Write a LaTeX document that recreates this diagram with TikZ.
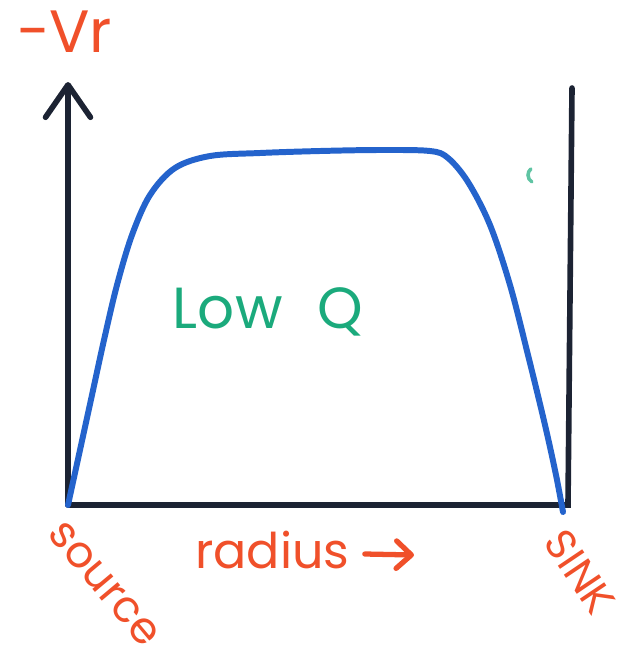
\documentclass[tikz,border=0pt]{standalone}
\usepackage{fontspec}
\setmainfont{Poppins}
\usepackage{tikz}
\usetikzlibrary{arrows.meta, positioning}

\definecolor{penred}{HTML}{F0502A}
\definecolor{pengreen}{HTML}{1BAA7C}
\definecolor{penblue}{HTML}{2463CC}
\definecolor{penaxis}{HTML}{1C2333}

\begin{document}
\begin{tikzpicture}[
    x=0.02cm, y=-0.02cm,
    axisline/.style={draw=penaxis, line width=3.2pt, line cap=round},
    curveline/.style={draw=penblue, line width=3.4pt, line cap=round, line join=round},
    redtext/.style={text=penred, font=\fontsize{28}{30}\selectfont, inner sep=0pt},
    greentext/.style={text=pengreen, font=\fontsize{33}{35}\selectfont, inner sep=0pt},
    arrow/.style={->, >={Straight Barb[length=0.65cm, width=0.9cm, round]}},
    redarrow/.style={->, >={Straight Barb[length=0.3cm, width=0.55cm, round]}, draw=penred, line width=3pt, line cap=round}
  ]
    \useasboundingbox (0,0) rectangle (626,660);
    % axes
    \coordinate (origin) at (68,505);
    \coordinate (ytop) at (68,82);
    \coordinate (xend) at (568,505);
    \coordinate (sinktop) at (572,88);
    \draw[axisline, arrow] (origin) -- (ytop);
    \draw[axisline] (origin) -- (xend) -- (sinktop);
    % velocity profile
    \draw[curveline] plot[smooth, tension=0.55] coordinates {
      (68,505) (80,450) (92,395) (104,340) (117,285) (132,235) (150,195)
      (175,168) (210,156) (260,153) (320,151) (380,150) (430,151) (448,158)
      (468,182) (490,225) (510,285) (528,355) (545,425) (556,475) (563,512)};
    % labels
    \node[redtext] (vr) at (64,32) {\fontsize{34}{36}\selectfont −Vr};
    \node[greentext] (lowq) at (268,312) {Low\hspace{0.6em}Q};
    \node[redtext, anchor=west] (radius) at (195,550) {radius};
    \coordinate (radiusend) at (414,555);
    \draw[redarrow] ([xshift=0.3cm, yshift=-0.08cm]radius.east) -- (radiusend);
    \node[redtext, font=\fontsize{25}{27}\selectfont, rotate=-50] (source) at (104,584) {source};
    \node[redtext, font=\fontsize{24}{26}\selectfont, rotate=-56] (sink) at (580,572) {SINK};
    % stray mark
    \draw[pengreen!70, line width=2pt, line cap=round] (532,182) arc[start angle=120, end angle=230, radius=8];
  \end{tikzpicture}
\end{document}
